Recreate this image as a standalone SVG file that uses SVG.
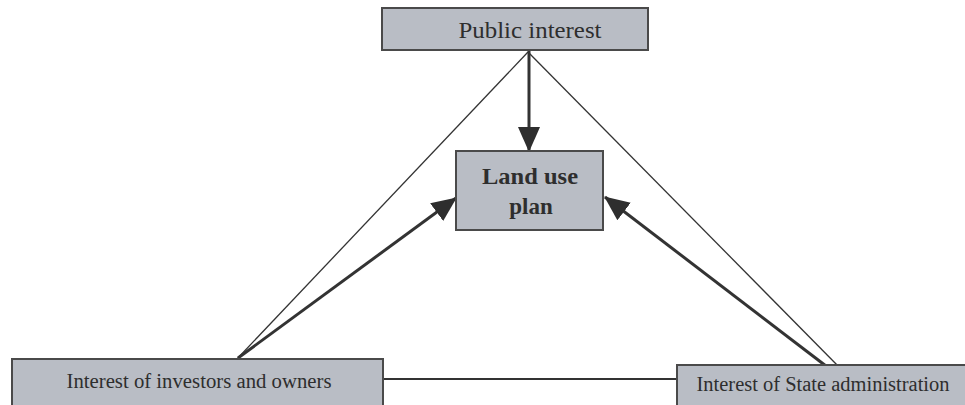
<svg xmlns="http://www.w3.org/2000/svg" width="965" height="405" viewBox="0 0 965 405">
<style>
.box{fill:#b9bdc5;stroke:#4a4a4a;stroke-width:2}
.lbl{font-family:"Liberation Serif","Times New Roman",serif;fill:#2e2e2e;text-anchor:middle}
.thin{stroke:#333;stroke-width:1.3;fill:none}
.thick{stroke:#333;stroke-width:3;fill:none}
.plain{stroke:#333;stroke-width:2;fill:none}
</style>
<defs>
<marker id="ah" markerUnits="userSpaceOnUse" markerWidth="26" markerHeight="24" viewBox="0 0 26 24" refX="24" refY="12" orient="auto">
<path d="M0,1 L25,12 L0,23 Z" fill="#2e2e2e"/>
</marker>
</defs>
<rect width="965" height="405" fill="#fff"/>
<g id="connectors">
<line class="thin" x1="528" y1="52" x2="236" y2="360"/>
<line class="thin" x1="528" y1="52" x2="842" y2="370"/>
<line class="plain" x1="383" y1="379" x2="677" y2="379"/>
<line class="thick" x1="529" y1="50" x2="529" y2="151" marker-end="url(#ah)"/>
<line class="thick" x1="238" y1="358" x2="456" y2="198" marker-end="url(#ah)"/>
<line class="thick" x1="826" y1="366" x2="605" y2="197" marker-end="url(#ah)"/>
</g>
<g id="public">
<rect class="box" x="382" y="8" width="266" height="42"/>
<text class="lbl" x="530" y="38" font-size="23" textLength="143" lengthAdjust="spacingAndGlyphs">Public interest</text>
</g>
<g id="landuse">
<rect class="box" x="456" y="151" width="147" height="79"/>
<text class="lbl" x="530" y="184" font-size="23" font-weight="bold" textLength="96" lengthAdjust="spacingAndGlyphs">Land use</text>
<text class="lbl" x="531" y="214" font-size="23" font-weight="bold">plan</text>
</g>
<g id="investors">
<rect class="box" x="12" y="359" width="371" height="50"/>
<text class="lbl" x="199" y="388" font-size="20" textLength="265" lengthAdjust="spacingAndGlyphs">Interest of investors and owners</text>
</g>
<g id="state">
<rect class="box" x="677" y="365" width="295" height="44"/>
<text class="lbl" x="823" y="391" font-size="20" textLength="253" lengthAdjust="spacingAndGlyphs">Interest of State administration</text>
</g>
</svg>
